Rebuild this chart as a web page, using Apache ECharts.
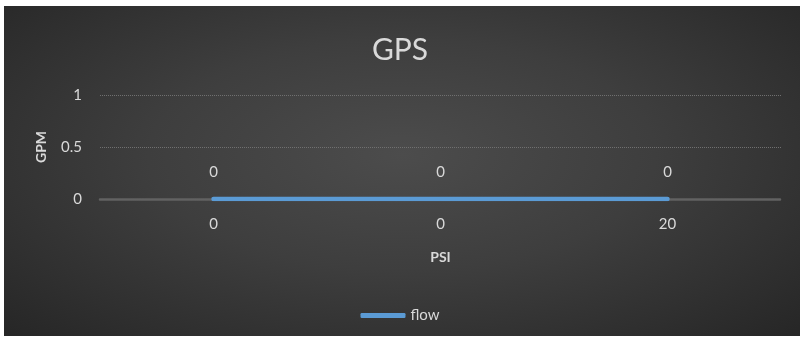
<!DOCTYPE html>
<html>
<head>
<meta charset="utf-8">
<script src="https://cdn.jsdelivr.net/npm/echarts@6/dist/echarts.min.js"></script>
<style>
  html, body { margin: 0; padding: 0; background: #ffffff; }
  #wrap { position: relative; width: 800px; height: 337px; }
  #bg {
    position: absolute; left: 4px; top: 6px; right: 0; bottom: 1px;
    background: radial-gradient(ellipse farthest-corner at 50% 45%, #4c4c4c 0%, #3e3e3e 45%, #262626 100%);
  }
  #chart { position: absolute; left: 0; top: 0; width: 800px; height: 337px; }
</style>
</head>
<body>
<div id="wrap">
  <div id="bg"></div>
  <div id="chart"></div>
</div>
<script>
// Pressure categories (PSI) and measured flow (GPM)
const categories = ['0', '0', '20'];
const flowValues = [0, 0, 0];
const yTicks = { min: 0, max: 1, interval: 0.5 };

const FONT = 'Lato, "Open Sans", sans-serif';
const TEXT = '#d9d9d9';
const BLUE = '#5b9bd5';

const chart = echarts.init(document.getElementById('chart'), null, { renderer: 'canvas' });
chart.setOption({
  backgroundColor: 'transparent',
  textStyle: { fontFamily: FONT },
  title: {
    text: 'GPS',
    left: 'center',
    top: 30,
    textStyle: { color: TEXT, fontSize: 30, fontWeight: 'normal', fontFamily: FONT }
  },
  legend: {
    data: [{ name: 'flow', icon: 'roundRect', itemStyle: { color: BLUE, opacity: 1 } }],
    left: 'center',
    top: 303,
    itemWidth: 45,
    itemHeight: 5,
    itemGap: 4,
    textStyle: { color: TEXT, fontSize: 15, fontFamily: FONT }
  },
  grid: { left: 100, right: 19, top: 95, bottom: 138, containLabel: false },
  xAxis: {
    type: 'category',
    data: categories,
    boundaryGap: true,
    name: 'PSI',
    nameLocation: 'middle',
    nameGap: 51,
    nameTextStyle: { color: TEXT, fontSize: 14, fontWeight: 'bold', fontFamily: FONT },
    axisLine: { show: true, lineStyle: { color: '#626262', width: 2.5, type: [2, 1] } },
    axisTick: { show: false },
    axisLabel: { color: TEXT, fontSize: 15, margin: 18, fontFamily: FONT },
    splitLine: { show: false }
  },
  yAxis: {
    type: 'value',
    min: yTicks.min,
    max: yTicks.max,
    interval: yTicks.interval,
    name: 'GPM',
    nameLocation: 'middle',
    nameRotate: 90,
    nameGap: 52,
    nameTextStyle: { color: TEXT, fontSize: 14, fontWeight: 'bold', fontFamily: FONT },
    axisLine: { show: false },
    axisTick: { show: false },
    axisLabel: { color: TEXT, fontSize: 15, margin: 18, fontFamily: FONT },
    splitLine: { show: true, lineStyle: { color: '#707070', width: 1, type: 'dotted' } }
  },
  series: [{
    name: 'flow',
    type: 'line',
    data: flowValues,
    showSymbol: true,
    symbol: 'circle',
    symbolSize: 3,
    lineStyle: { color: BLUE, width: 4.5, cap: 'round' },
    itemStyle: { color: BLUE, borderWidth: 0 },
    emphasis: { disabled: true },
    label: {
      show: true,
      position: 'top',
      distance: 18,
      color: TEXT,
      fontSize: 15,
      fontFamily: FONT
    },
    labelLayout: { hideOverlap: false }
  }]
});
</script>
</body>
</html>
